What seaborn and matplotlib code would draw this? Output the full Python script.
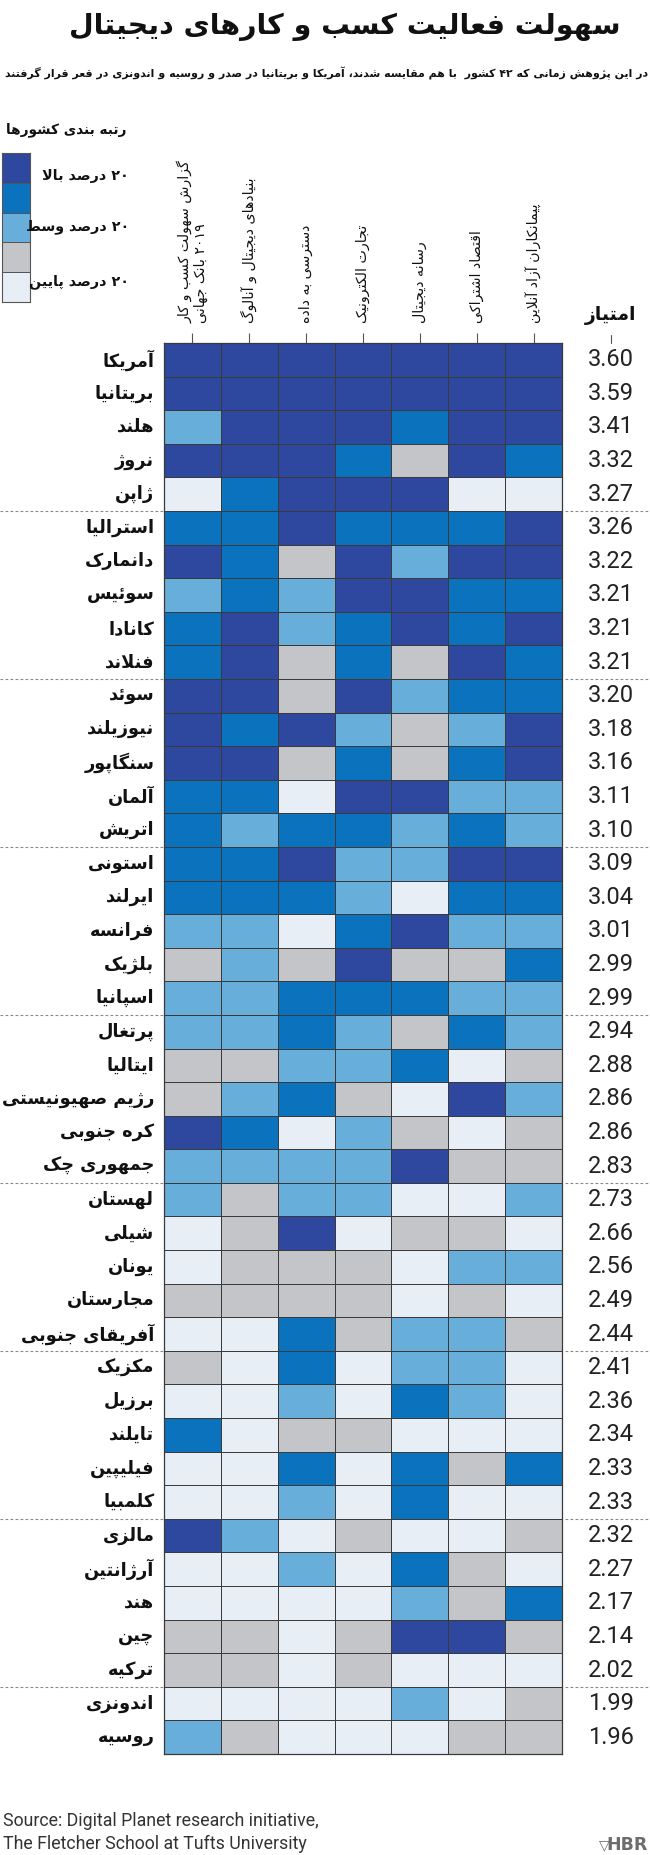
import re
import numpy as np
import pandas as pd
import matplotlib
matplotlib.use("Agg")
import matplotlib.pyplot as plt
import matplotlib.transforms as mtransforms
from matplotlib.colors import ListedColormap
from matplotlib import font_manager as fm
import seaborn as sns

# ---------------- data ----------------
countries = ["آمریکا", "بریتانیا", "هلند", "نروژ", "ژاپن",
             "استرالیا", "دانمارک", "سوئیس", "کانادا", "فنلاند",
             "سوئد", "نیوزیلند", "سنگاپور", "آلمان", "اتریش",
             "استونی", "ایرلند", "فرانسه", "بلژیک", "اسپانیا",
             "پرتغال", "ایتالیا", "رژیم صهیونیستی", "کره جنوبی", "جمهوری چک",
             "لهستان", "شیلی", "یونان", "مجارستان", "آفریقای جنوبی",
             "مکزیک", "برزیل", "تایلند", "فیلیپین", "کلمبیا",
             "مالزی", "آرژانتین", "هند", "چین", "ترکیه",
             "اندونزی", "روسیه"]
scores = [3.60, 3.59, 3.41, 3.32, 3.27, 3.26, 3.22, 3.21, 3.21, 3.21,
          3.20, 3.18, 3.16, 3.11, 3.10, 3.09, 3.04, 3.01, 2.99, 2.99,
          2.94, 2.88, 2.86, 2.86, 2.83, 2.73, 2.66, 2.56, 2.49, 2.44,
          2.41, 2.36, 2.34, 2.33, 2.33, 2.32, 2.27, 2.17, 2.14, 2.02,
          1.99, 1.96]
columns = ["گزارش سهولت کسب و کار\n۲۰۱۹ بانک جهانی",
           "بنیادهای دیجیتال و آنالوگ",
           "دسترسی به داده",
           "تجارت الکترونیک",
           "رسانه دیجیتال",
           "اقتصاد اشتراکی",
           "پیمانکاران آزاد آنلاین"]
# quintile level per column: 5 = top 20%, 1 = bottom 20%
ease_business = [5, 5, 3, 5, 1, 4, 5, 3, 4, 4, 5, 5, 5, 4, 4, 4, 4, 3, 2, 3, 3,
                 2, 2, 5, 3, 3, 1, 1, 2, 1, 2, 1, 4, 1, 1, 5, 1, 1, 2, 2, 1, 3]
foundations = [5, 5, 5, 5, 4, 4, 4, 4, 5, 5, 5, 4, 5, 4, 3, 4, 4, 3, 3, 3, 3,
               2, 3, 4, 3, 2, 2, 2, 2, 1, 1, 1, 1, 1, 1, 3, 1, 1, 2, 2, 1, 2]
data_access = [5, 5, 5, 5, 5, 5, 2, 3, 3, 2, 2, 5, 2, 1, 4, 5, 4, 1, 2, 4, 4,
               3, 4, 1, 3, 3, 5, 2, 2, 4, 4, 3, 2, 4, 3, 1, 3, 1, 1, 1, 1, 1]
ecommerce = [5, 5, 5, 4, 5, 4, 5, 5, 4, 4, 5, 3, 4, 5, 4, 3, 3, 4, 5, 4, 3,
             3, 2, 3, 3, 3, 1, 2, 2, 2, 1, 1, 2, 1, 1, 2, 1, 1, 2, 2, 1, 1]
digital_media = [5, 5, 4, 2, 5, 4, 3, 5, 5, 2, 3, 2, 2, 5, 3, 3, 1, 5, 2, 4, 2,
                 4, 1, 2, 5, 1, 2, 1, 1, 3, 3, 4, 1, 4, 4, 1, 4, 3, 5, 1, 3, 1]
sharing_economy = [5, 5, 5, 5, 1, 4, 5, 4, 4, 5, 4, 3, 4, 3, 4, 5, 4, 3, 2, 3, 4,
                   1, 5, 1, 2, 1, 2, 3, 2, 3, 3, 3, 1, 2, 1, 1, 2, 2, 5, 1, 1, 2]
freelancers = [5, 5, 5, 4, 1, 5, 5, 4, 5, 4, 4, 5, 5, 3, 3, 5, 4, 3, 4, 3, 3,
               2, 3, 2, 2, 3, 1, 3, 1, 2, 1, 1, 1, 4, 1, 2, 1, 4, 2, 1, 2, 2]
legend_labels = ["۲۰ درصد بالا", "۲۰ درصد وسط", "۲۰ درصد پایین"]
legend_levels = [5, 4, 3, 2, 1]
title_text = "سهولت فعالیت کسب و کارهای دیجیتال"
subtitle_text = ("در این پژوهش زمانی که ۴۲ کشور  با هم مقایسه شدند، آمریکا و بریتانیا"
                 " در صدر و روسیه و اندونزی در قعر قرار گرفتند")
legend_title = "رتبه بندی کشورها"
score_title = "امتیاز"
source_lines = ["Source: Digital Planet research initiative,",
                "The Fletcher School at Tufts University"]

level_colors = ["#E8EEF6", "#C3C5C8", "#68AEDB", "#0B73BE", "#2E479F"]

# ---------------- minimal Persian shaping + bidi ----------------
FORMS = {
    'ء': ('\uFE80', None, None, None),
    'آ': ('\uFE81', '\uFE82', None, None),
    'أ': ('\uFE83', '\uFE84', None, None),
    'ؤ': ('\uFE85', '\uFE86', None, None),
    'إ': ('\uFE87', '\uFE88', None, None),
    'ئ': ('\uFE89', '\uFE8A', '\uFE8B', '\uFE8C'),
    'ا': ('\uFE8D', '\uFE8E', None, None),
    'ب': ('\uFE8F', '\uFE90', '\uFE91', '\uFE92'),
    'ة': ('\uFE93', '\uFE94', None, None),
    'ت': ('\uFE95', '\uFE96', '\uFE97', '\uFE98'),
    'ث': ('\uFE99', '\uFE9A', '\uFE9B', '\uFE9C'),
    'ج': ('\uFE9D', '\uFE9E', '\uFE9F', '\uFEA0'),
    'ح': ('\uFEA1', '\uFEA2', '\uFEA3', '\uFEA4'),
    'خ': ('\uFEA5', '\uFEA6', '\uFEA7', '\uFEA8'),
    'د': ('\uFEA9', '\uFEAA', None, None),
    'ذ': ('\uFEAB', '\uFEAC', None, None),
    'ر': ('\uFEAD', '\uFEAE', None, None),
    'ز': ('\uFEAF', '\uFEB0', None, None),
    'س': ('\uFEB1', '\uFEB2', '\uFEB3', '\uFEB4'),
    'ش': ('\uFEB5', '\uFEB6', '\uFEB7', '\uFEB8'),
    'ص': ('\uFEB9', '\uFEBA', '\uFEBB', '\uFEBC'),
    'ض': ('\uFEBD', '\uFEBE', '\uFEBF', '\uFEC0'),
    'ط': ('\uFEC1', '\uFEC2', '\uFEC3', '\uFEC4'),
    'ظ': ('\uFEC5', '\uFEC6', '\uFEC7', '\uFEC8'),
    'ع': ('\uFEC9', '\uFECA', '\uFECB', '\uFECC'),
    'غ': ('\uFECD', '\uFECE', '\uFECF', '\uFED0'),
    'ف': ('\uFED1', '\uFED2', '\uFED3', '\uFED4'),
    'ق': ('\uFED5', '\uFED6', '\uFED7', '\uFED8'),
    'ل': ('\uFEDD', '\uFEDE', '\uFEDF', '\uFEE0'),
    'م': ('\uFEE1', '\uFEE2', '\uFEE3', '\uFEE4'),
    'ن': ('\uFEE5', '\uFEE6', '\uFEE7', '\uFEE8'),
    'ه': ('\uFEE9', '\uFEEA', '\uFEEB', '\uFEEC'),
    'و': ('\uFEED', '\uFEEE', None, None),
    'پ': ('\uFB56', '\uFB57', '\uFB58', '\uFB59'),
    'چ': ('\uFB7A', '\uFB7B', '\uFB7C', '\uFB7D'),
    'ژ': ('\uFB8A', '\uFB8B', None, None),
    'ک': ('\uFB8E', '\uFB8F', '\uFB90', '\uFB91'),
    'گ': ('\uFB92', '\uFB93', '\uFB94', '\uFB95'),
    'ی': ('\uFBFC', '\uFBFD', '\uFBFE', '\uFBFF'),
}
LAM_ALEF = {'ا': ('\uFEFB', '\uFEFC'), 'آ': ('\uFEF5', '\uFEF6'),
            'أ': ('\uFEF7', '\uFEF8'), 'إ': ('\uFEF9', '\uFEFA')}


def shape(text):
    text = text.replace('ي', 'ی').replace('ك', 'ک').replace('ى', 'ی')
    out, i, n, prev_joins = [], 0, len(text), False
    while i < n:
        c = text[i]
        if c in FORMS:
            if c == 'ل' and i + 1 < n and text[i + 1] in LAM_ALEF:
                iso, fin = LAM_ALEF[text[i + 1]]
                out.append(fin if prev_joins else iso)
                prev_joins = False
                i += 2
                continue
            iso, fin, ini, med = FORMS[c]
            nxt = text[i + 1] if i + 1 < n else ''
            next_joins = ini is not None and nxt in FORMS and nxt != 'ء'
            if prev_joins and next_joins:
                g = med
            elif prev_joins:
                g = fin
            elif next_joins:
                g = ini
            else:
                g = iso
            out.append(g if g is not None else iso)
            prev_joins = next_joins
        else:
            out.append(c)
            prev_joins = False
        i += 1
    return ''.join(out)


DIG = r'0-9\u06F0-\u06F9'


def bidi(s):
    runs = re.findall(r'[' + DIG + r']+|[^' + DIG + r']+', s)
    vis = []
    for r in reversed(runs):
        vis.append(r if re.match('[' + DIG + ']', r) else r[::-1])
    return ''.join(vis)


def fa(text):
    return '\n'.join(bidi(shape(line)) for line in text.split('\n'))


# ---------------- fonts ----------------
sns.set_style("white")
plt.rcParams['font.family'] = ['DejaVu Sans']
installed = {f.name for f in fm.fontManager.ttflist}
if 'Liberation Sans Narrow' in installed:
    num_font, num_size, src_size = 'Liberation Sans Narrow', 19.5, 14.5
else:
    num_font, num_size, src_size = 'Roboto', 17, 12.8

W, H = 650, 1855
fig = plt.figure(figsize=(W / 100, H / 100), dpi=100)
fig.patch.set_facecolor('white')


def fx(px):
    return px / W


def fy(py):
    return 1 - py / H


# ---------------- heatmap ----------------
df = pd.DataFrame({columns[0]: ease_business, columns[1]: foundations,
                   columns[2]: data_access, columns[3]: ecommerce,
                   columns[4]: digital_media, columns[5]: sharing_economy,
                   columns[6]: freelancers}, index=countries)
cmap = ListedColormap(level_colors)

L, R, T, B = 164, 562, 343, 1754
ax = fig.add_axes([fx(L), fy(B), fx(R) - fx(L), fy(T) - fy(B)])
sns.heatmap(df, cmap=cmap, vmin=0.5, vmax=5.5, cbar=False,
            linewidths=0.7, linecolor='#3a3a3a', ax=ax,
            xticklabels=False, yticklabels=[fa(c) for c in countries])
for s in ax.spines.values():
    s.set_visible(True)
    s.set_color('#3a3a3a')
    s.set_linewidth(0.9)

ax.tick_params(axis='y', left=False, length=0, pad=7, labelsize=12.8,
               labelcolor='#111111')
for t in ax.get_yticklabels():
    t.set_fontweight('bold')
    t.set_rotation(0)

ax.xaxis.set_ticks_position('top')
ax.set_xticks(np.arange(len(columns)) + 0.5)
ax.set_xticklabels([])
ax.tick_params(axis='x', top=True, bottom=False, length=7.5, width=0.8,
               color='#555555', direction='out')

# column headers (rotated)
hdr_tr = mtransforms.offset_copy(ax.get_xaxis_transform(), fig=fig,
                                 x=0, y=14.4, units='points')
for i, col in enumerate(columns):
    ax.text(i + 0.5, 1.0, fa(col), transform=hdr_tr, rotation=90,
            ha='center', va='bottom', multialignment='left',
            fontsize=10.2, color='#111111', linespacing=1.05)

# scores on the right
score_x = (611 - L) / (R - L)
ytr = ax.get_yaxis_transform()
for i, sc in enumerate(scores):
    ax.text(score_x, i + 0.5, f"{sc:.2f}", transform=ytr, ha='center',
            va='center', fontsize=num_size, family=num_font, color='#222222')

ax.text(score_x, 1.0, fa(score_title), transform=mtransforms.offset_copy(
        ax.transAxes, fig=fig, x=0, y=13, units='points'),
        ha='center', va='bottom', fontsize=13.5, fontweight='bold', color='#111111')
ax.plot([score_x, score_x], [1.0, 1.0 + 8 / (B - T)], transform=ax.transAxes,
        color='#555555', lw=0.8, clip_on=False)

# dashed group separators
left_ext = -L / (R - L)
right_ext = (W - R) / (R - L) + 1
for k in range(5, len(countries), 5):
    for x0, x1 in [(left_ext, 0), (1.008, right_ext)]:
        ax.plot([x0, x1], [k, k], transform=ytr, color='#8a8a8a', lw=0.8,
                ls=(0, (2.5, 2)), clip_on=False)

# ---------------- legend ----------------
lax = fig.add_axes([fx(2), fy(302), fx(30) - fx(2), fy(153) - fy(302)])
sns.heatmap(np.array(legend_levels).reshape(-1, 1), cmap=cmap, vmin=0.5,
            vmax=5.5, cbar=False, linewidths=0.7, linecolor='#555555',
            ax=lax, xticklabels=False, yticklabels=False)
for s in lax.spines.values():
    s.set_visible(True)
    s.set_color('#555555')
    s.set_linewidth(0.8)

fig.text(fx(126), fy(130), fa(legend_title), ha='right', va='center',
         fontsize=9.8, fontweight='bold', color='#111111')
for lab, py in zip(legend_labels, [176, 227, 282]):
    fig.text(fx(129), fy(py), fa(lab), ha='right', va='center',
             fontsize=10.3, fontweight='bold', color='#111111')

# ---------------- titles & footer ----------------
fig.text(fx(345), fy(27), fa(title_text), ha='center', va='center',
         fontsize=20.5, fontweight='bold', color='#111111')
fig.text(fx(327), fy(73), fa(subtitle_text), ha='center', va='center',
         fontsize=7.9, fontweight='bold', color='#111111')

for txt, py in zip(source_lines, [1821, 1844]):
    fig.text(fx(3), fy(py), txt, ha='left', va='center', fontsize=src_size,
             family=num_font, color='#333333')
fig.text(fx(648), fy(1845), "HBR", ha='right', va='center', fontsize=12.5,
         fontweight='bold', color='#6d6d6d')
fig.text(fx(610), fy(1845), "\u25BD", ha='right', va='center', fontsize=10,
         color='#6d6d6d')

fig.savefig("out.png", dpi=100, facecolor='white')
